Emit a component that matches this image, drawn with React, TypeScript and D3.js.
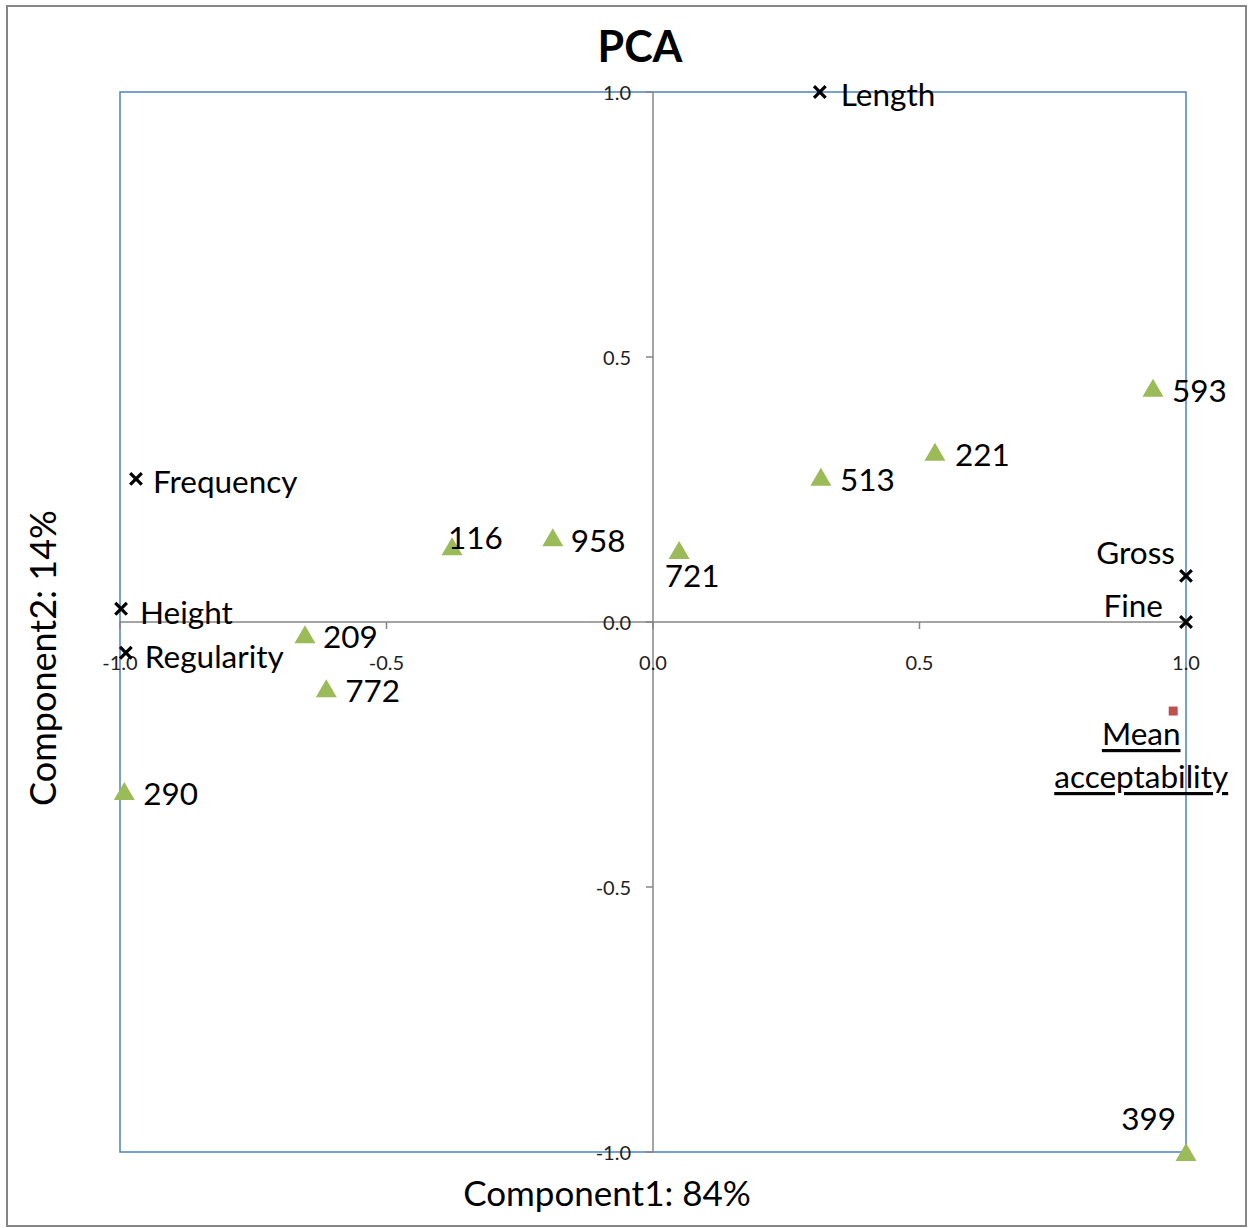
import React from "react";
import * as d3 from "d3";

const sampleNames = ["593", "221", "513", "116", "958", "721", "209", "772", "290", "399"];
const sampleX = [0.938, 0.529, 0.315, -0.377, -0.188, 0.049, -0.653, -0.613, -0.992, 1.0];
const sampleY = [0.442, 0.321, 0.274, 0.143, 0.160, 0.136, -0.023, -0.125, -0.319, -1.0];

const varNames = ["Length", "Frequency", "Height", "Regularity", "Gross", "Fine"];
const varX = [0.313, -0.970, -0.998, -0.989, 1.0, 1.0];
const varY = [1.0, 0.270, 0.025, -0.058, 0.087, 0.0];

const suppName = ["Mean", "acceptability"];
const suppX = [0.976];
const suppY = [-0.168];

const tickValues = [-1.0, -0.5, 0.0, 0.5, 1.0];

// label placement (style): anchor + offset from the marker
const labelPos: Record<string, { a: string; dx: number; dy: number }> = {
  "593": { a: "start", dx: 19, dy: 2 },
  "221": { a: "start", dx: 20, dy: 2 },
  "513": { a: "start", dx: 19, dy: 2 },
  "116": { a: "start", dx: -4, dy: -9 },
  "958": { a: "start", dx: 18, dy: 3 },
  "721": { a: "middle", dx: 13, dy: 25 },
  "209": { a: "start", dx: 18, dy: 2 },
  "772": { a: "start", dx: 19, dy: 2 },
  "290": { a: "start", dx: 19, dy: 2 },
  "399": { a: "end", dx: -10, dy: -34 },
  Length: { a: "start", dx: 21, dy: 2 },
  Frequency: { a: "start", dx: 17, dy: 2 },
  Height: { a: "start", dx: 19, dy: 3 },
  Regularity: { a: "start", dx: 19, dy: 3 },
  Gross: { a: "end", dx: -11, dy: -24 },
  Fine: { a: "end", dx: -23, dy: -17 },
};

const W = 1249;
const H = 1228;
const FONT = "Lato, 'Open Sans', sans-serif";

export default function App() {
  const x = d3.scaleLinear().domain([-1, 1]).range([120, 1186]);
  const y = d3.scaleLinear().domain([-1, 1]).range([1152, 92]);
  const tri = "M0,-9L10.5,9L-10.5,9Z";
  const cross = d3.symbol(d3.symbolX, 90)()!;
  const fmt = (v: number) => d3.format(".1f")(v).replace("\u2212", "-");
  const labelSize = 31.5;

  return (
    <svg
      width={W}
      height={H}
      style={{ position: "absolute", left: 0, top: 0, background: "#fff" }}
      fontFamily={FONT}
    >
      <rect x={7} y={6} width={1239} height={1220} fill="#fff" stroke="#868686" strokeWidth={2} />
      <text x={640} y={45} textAnchor="middle" dominantBaseline="central" fontSize={43} fontWeight="bold">
        PCA
      </text>
      <rect x={120} y={92} width={1066} height={1060} fill="none" stroke="#4F81BD" strokeWidth={1.5} />
      {/* axes */}
      <line x1={x(0)} x2={x(0)} y1={y(1)} y2={y(-1)} stroke="#868686" strokeWidth={1.5} />
      <line x1={x(-1)} x2={x(1)} y1={y(0)} y2={y(0)} stroke="#868686" strokeWidth={1.5} />
      {tickValues.map((t) => (
        <g key={"yt" + t}>
          <line x1={x(0) - 7} x2={x(0)} y1={y(t)} y2={y(t)} stroke="#868686" strokeWidth={1.5} />
          <text x={631} y={y(t)} textAnchor="end" dominantBaseline="central" fontSize={20} fill="#222">
            {fmt(t)}
          </text>
        </g>
      ))}
      {tickValues.map((t) => (
        <g key={"xt" + t}>
          <line x1={x(t)} x2={x(t)} y1={y(0)} y2={y(0) + 7} stroke="#868686" strokeWidth={1.5} />
          <text x={x(t)} y={662} textAnchor="middle" dominantBaseline="central" fontSize={20} fill="#222">
            {fmt(t)}
          </text>
        </g>
      ))}
      {/* axis titles */}
      <text x={607} y={1192} textAnchor="middle" dominantBaseline="central" fontSize={35}>
        Component1: 84%
      </text>
      <text
        transform={`translate(42,658) rotate(-90)`}
        textAnchor="middle"
        dominantBaseline="central"
        fontSize={36}
      >
        Component2: 14%
      </text>
      {/* samples */}
      {sampleNames.map((n, i) => {
        const px = x(sampleX[i]);
        const py = y(sampleY[i]);
        const lp = labelPos[n];
        return (
          <g key={"s" + n}>
            <path d={tri} transform={`translate(${px},${py})`} fill="#9BBB59" />
            <text
              x={px + lp.dx}
              y={py + lp.dy}
              textAnchor={lp.a}
              dominantBaseline="central"
              fontSize={labelSize}
            >
              {n}
            </text>
          </g>
        );
      })}
      {/* variables */}
      {varNames.map((n, i) => {
        const px = x(varX[i]);
        const py = y(varY[i]);
        const lp = labelPos[n];
        return (
          <g key={"v" + n}>
            <path d={cross} transform={`translate(${px},${py})`} fill="none" stroke="#000" strokeWidth={3.2} />
            <text
              x={px + lp.dx}
              y={py + lp.dy}
              textAnchor={lp.a}
              dominantBaseline="central"
              fontSize={labelSize}
            >
              {n}
            </text>
          </g>
        );
      })}
      {/* supplementary */}
      {suppX.map((sx, i) => {
        const px = x(sx);
        const py = y(suppY[i]);
        return (
          <g key={"m" + i}>
            <rect x={px - 4.5} y={py - 4.5} width={9} height={9} fill="#C0504D" />
            {suppName.map((line, j) => (
              <text
                key={line}
                x={px - 32}
                y={py + 22 + j * 43}
                textAnchor="middle"
                dominantBaseline="central"
                fontSize={labelSize}
                textDecoration="underline"
              >
                {line}
              </text>
            ))}
          </g>
        );
      })}
    </svg>
  );
}
